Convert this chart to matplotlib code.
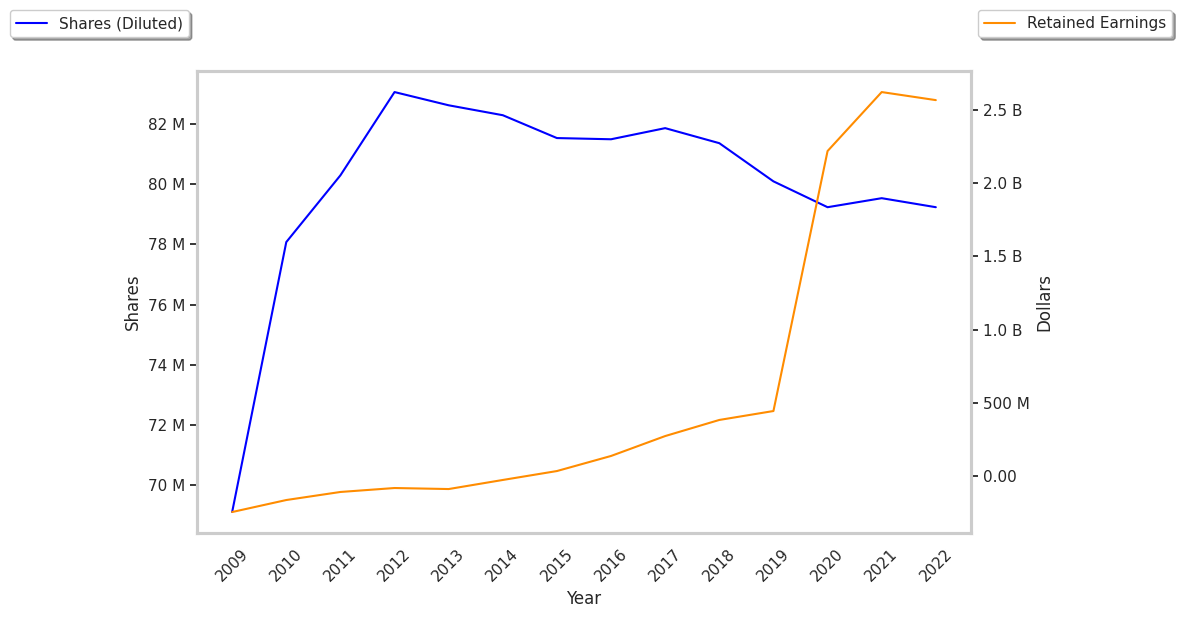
import matplotlib
matplotlib.use("Agg")
import matplotlib.pyplot as plt
import seaborn as sns
from matplotlib.ticker import FuncFormatter

# data
years = [2009, 2010, 2011, 2012, 2013, 2014, 2015, 2016, 2017, 2018, 2019, 2020, 2021, 2022]
shares_m = [69.1, 78.08, 80.3, 83.07, 82.63, 82.3, 81.54, 81.5, 81.87, 81.37, 80.1, 79.24, 79.54, 79.24]
retained_b = [-0.246, -0.164, -0.109, -0.082, -0.089, -0.027, 0.034, 0.137, 0.273, 0.383, 0.444, 2.22, 2.623, 2.568]

shares = [v * 1e6 for v in shares_m]
retained = [v * 1e9 for v in retained_b]

sns.set_theme(style="white")
plt.rcParams['font.family'] = ['DejaVu Sans']


def fmt_big(x, pos):
    if abs(x) >= 1e9:
        return f"{x / 1e9:.1f} B"
    if abs(x) >= 1e6:
        return f"{x / 1e6:.0f} M"
    return f"{x:.2f}"


fig = plt.figure(figsize=(11.83, 6.18), dpi=100)
ax = fig.add_axes([0.1665, 0.1375, 0.6543, 0.7475])
ax2 = ax.twinx()

l1, = ax.plot(years, shares, color="blue", lw=1.5, label="Shares (Diluted)")
l2, = ax2.plot(years, retained, color="darkorange", lw=1.5, label="Retained Earnings")

ax.set_xticks(years)
ax.set_xticklabels([str(y) for y in years], rotation=45)
ax.set_xlabel("Year")
ax.set_ylabel("Shares")
ax2.set_ylabel("Dollars")

ax.yaxis.set_major_formatter(FuncFormatter(fmt_big))
ax2.yaxis.set_major_formatter(FuncFormatter(fmt_big))

ax.tick_params(axis="y", left=True, length=5, width=1.3, color="#262626")
ax2.tick_params(axis="y", right=True, length=5, width=1.3, color="#262626")
ax.tick_params(axis="x", bottom=False)

for a in (ax, ax2):
    for s in a.spines.values():
        s.set_color("#cccccc")
        s.set_linewidth(2.2)

fig.legend(handles=[l1], loc="upper left", bbox_to_anchor=(0.002, 0.996),
           shadow=True, fancybox=True, frameon=True)
fig.legend(handles=[l2], loc="upper right", bbox_to_anchor=(0.9975, 0.996),
           shadow=True, fancybox=True, frameon=True)

fig.savefig("out.png", dpi=100)
